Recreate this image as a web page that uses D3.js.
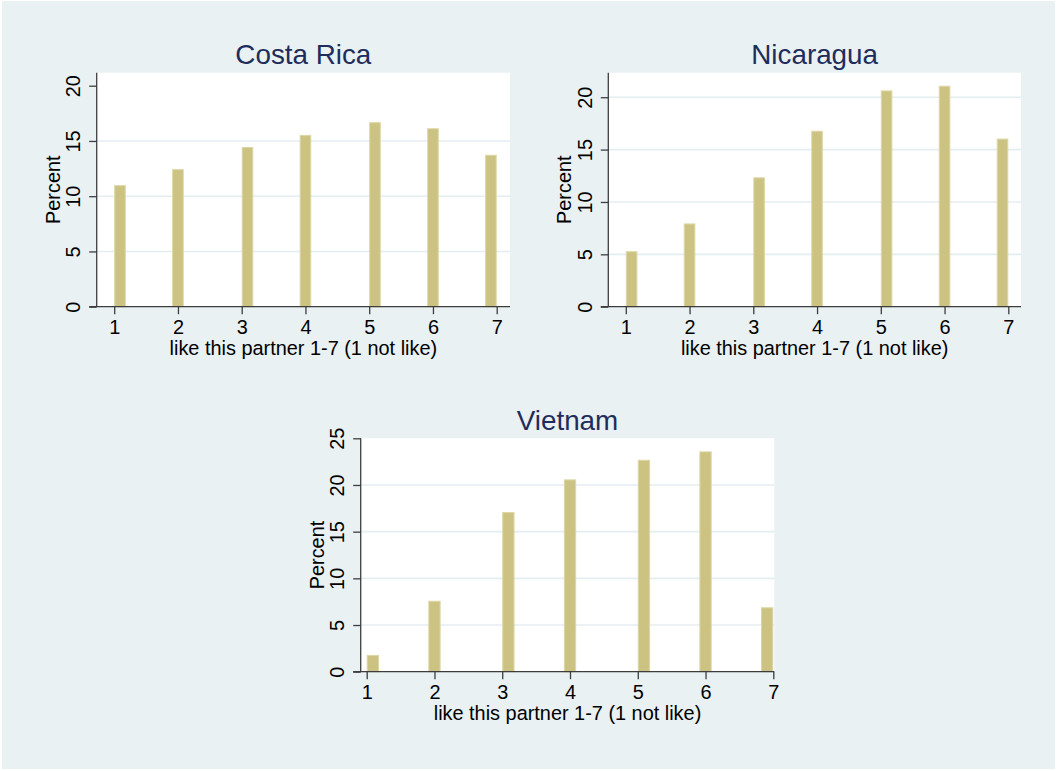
<!DOCTYPE html>
<html>
<head>
<meta charset="utf-8">
<script src="https://cdn.jsdelivr.net/npm/d3@7"></script>
<style>
  html, body { margin: 0; padding: 0; background: #ffffff; }
  svg { display: block; }
</style>
</head>
<body>
<svg id="chart" width="1057" height="771"></svg>
<script>
// ---------------- data ----------------
const categories = [1, 2, 3, 4, 5, 6, 7];
const countries = ["Costa Rica", "Nicaragua", "Vietnam"];
const costaRicaPct = [11.0, 12.45, 14.45, 15.55, 16.7, 16.15, 13.75];
const nicaraguaPct = [5.3, 7.95, 12.35, 16.8, 20.65, 21.1, 16.05];
const vietnamPct   = [1.8, 7.6, 17.1, 20.6, 22.7, 23.6, 6.9];
const costaRicaTicks = [0, 5, 10, 15, 20];
const nicaraguaTicks = [0, 5, 10, 15, 20];
const vietnamTicks   = [0, 5, 10, 15, 20, 25];
const xTickLabels = ["1", "2", "3", "4", "5", "6", "7"];
const xAxisTitle = "like this partner 1-7 (1 not like)";
const yAxisTitle = "Percent";
const nBins = 33;   // histogram bins spanning 1..7

// ---------------- layout ----------------
const panels = [
  { name: countries[0], values: costaRicaPct, ticks: costaRicaTicks,
    left: 96.7, right: 510, top: 72.7, bottom: 306.7, padL: 17.5, padR: 13.3, padT: 13 },
  { name: countries[1], values: nicaraguaPct, ticks: nicaraguaTicks,
    left: 608.3, right: 1021, top: 72.7, bottom: 306.7, padL: 17.5, padR: 12.7, padT: 13 },
  { name: countries[2], values: vietnamPct, ticks: vietnamTicks,
    left: 360.7, right: 774.3, top: 438.3, bottom: 671.7, padL: 6, padR: 1, padT: 0 }
];

const FONT = "'Liberation Sans', Arial, Helvetica, sans-serif";
const BG = "#e9f1f3";
const GRID = "#e4edf0";
const AXIS = "#3d3d3d";
const BAR_FILL = "#ccc382";
const BAR_STROKE = "#ddd7a6";
const TITLE_COLOR = "#1e2d5c";
const LABEL_SIZE = 19.9;
const TITLE_SIZE = 27.8;

const svg = d3.select("#chart");
svg.append("rect").attr("x", 2).attr("y", 1).attr("width", 1053).attr("height", 768).attr("fill", BG);

panels.forEach(p => {
  const g = svg.append("g");
  const w = p.right - p.left, h = p.bottom - p.top;

  // plot region
  g.append("rect").attr("x", p.left).attr("y", p.top).attr("width", w).attr("height", h).attr("fill", "#ffffff");

  const x = d3.scaleLinear().domain([1, 7]).range([p.left + p.padL, p.right - p.padR]);
  const yTopVal = Math.max(d3.max(p.values), d3.max(p.ticks));
  const y = d3.scaleLinear().domain([0, yTopVal]).range([p.bottom, p.top + p.padT]);

  // gridlines (interior ticks only)
  g.selectAll("line.grid").data(p.ticks.filter(t => t > 0 && t < yTopVal - 1e-9)).enter()
    .append("line").attr("class", "grid")
    .attr("x1", p.left).attr("x2", p.right)
    .attr("y1", d => y(d)).attr("y2", d => y(d))
    .attr("stroke", GRID).attr("stroke-width", 1.6);

  // bars: histogram bins of width 6/nBins
  const bw = 6 / nBins;
  const bars = categories.map((c, i) => {
    let k = Math.floor((c - 1) / bw + 1e-9);
    k = Math.min(k, nBins - 1);
    return { x0: 1 + k * bw, x1: 1 + (k + 1) * bw, v: p.values[i] };
  });
  g.selectAll("rect.bar").data(bars).enter()
    .append("rect").attr("class", "bar")
    .attr("x", d => x(d.x0) + 0.5)
    .attr("width", d => x(d.x1) - x(d.x0) - 1)
    .attr("y", d => y(d.v) + 0.5)
    .attr("height", d => y(0) - y(d.v) - 0.5)
    .attr("fill", BAR_FILL).attr("stroke", BAR_STROKE).attr("stroke-width", 1);

  // y axis
  const yAxis = d3.axisLeft(y).tickValues(p.ticks).tickSize(7.5).tickSizeOuter(0).tickFormat(d3.format("d"));
  const ya = g.append("g").attr("transform", `translate(${p.left},0)`).call(yAxis);
  ya.select(".domain").remove();
  ya.selectAll(".tick line").attr("stroke", AXIS).attr("stroke-width", 1.3);
  ya.selectAll(".tick text").remove();
  ya.selectAll(".tick").append("text")
    .attr("transform", "translate(-16.6,0) rotate(-90)")
    .attr("text-anchor", "middle")
    .attr("fill", "#000").attr("font-family", FONT).attr("font-size", LABEL_SIZE)
    .text(d => d3.format("d")(d));
  g.append("line").attr("x1", p.left).attr("x2", p.left).attr("y1", p.top).attr("y2", p.bottom)
    .attr("stroke", AXIS).attr("stroke-width", 1.3);

  // x axis
  const xAxis = d3.axisBottom(x).tickValues(categories).tickSize(7.5).tickSizeOuter(0)
    .tickFormat((d, i) => xTickLabels[i]);
  const xa = g.append("g").attr("transform", `translate(0,${p.bottom})`).call(xAxis);
  xa.select(".domain").remove();
  xa.selectAll(".tick line").attr("stroke", AXIS).attr("stroke-width", 1.3);
  xa.selectAll(".tick text").attr("y", 27.8).attr("dy", null)
    .attr("fill", "#000").attr("font-family", FONT).attr("font-size", LABEL_SIZE);
  g.append("line").attr("x1", p.left - 7.5).attr("x2", p.right).attr("y1", p.bottom).attr("y2", p.bottom)
    .attr("stroke", AXIS).attr("stroke-width", 1.3);

  // axis titles
  g.append("text").attr("x", (p.left + p.right) / 2).attr("y", p.bottom + 48.3)
    .attr("text-anchor", "middle").attr("fill", "#000")
    .attr("font-family", FONT).attr("font-size", LABEL_SIZE).text(xAxisTitle);
  g.append("text")
    .attr("transform", `translate(${p.left - 37},${(p.top + p.bottom) / 2}) rotate(-90)`)
    .attr("text-anchor", "middle").attr("fill", "#000")
    .attr("font-family", FONT).attr("font-size", LABEL_SIZE).text(yAxisTitle);

  // panel title
  g.append("text").attr("x", (p.left + p.right) / 2).attr("y", p.top - 8.8)
    .attr("text-anchor", "middle").attr("fill", TITLE_COLOR)
    .attr("font-family", FONT).attr("font-size", TITLE_SIZE).text(p.name);
});
</script>
</body>
</html>
